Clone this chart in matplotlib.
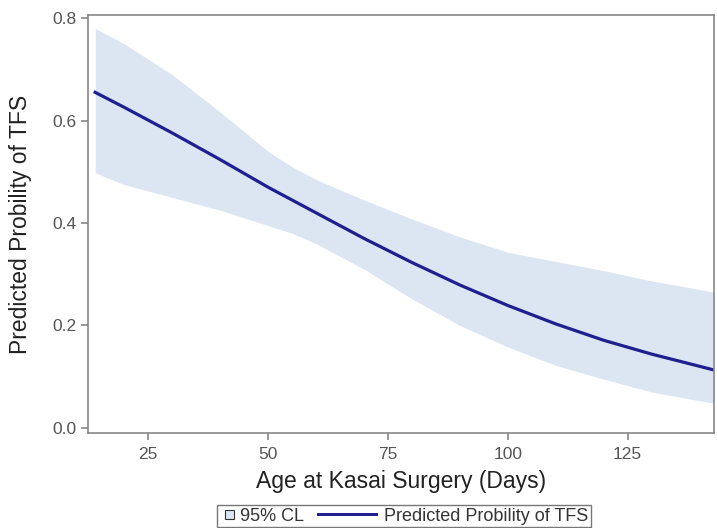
import matplotlib.pyplot as plt
from matplotlib.patches import Patch, Rectangle
from matplotlib.legend_handler import HandlerPatch

plt.rcParams['font.family'] = ['Liberation Sans', 'DejaVu Sans']

# age at Kasai surgery (days) and predicted probability with 95% CL
age = [14, 20, 30, 40, 50, 55, 60, 70, 80, 90, 100, 110, 120, 130, 143]
pred = [0.655, 0.626, 0.576, 0.524, 0.470, 0.445, 0.420, 0.370, 0.323, 0.279,
        0.239, 0.203, 0.171, 0.144, 0.113]
upper = [0.780, 0.750, 0.690, 0.617, 0.540, 0.510, 0.485, 0.445, 0.408, 0.373,
         0.343, 0.325, 0.307, 0.287, 0.265]
lower = [0.498, 0.475, 0.450, 0.425, 0.395, 0.380, 0.360, 0.310, 0.252, 0.200,
         0.158, 0.122, 0.095, 0.070, 0.048]

xticks = [25, 50, 75, 100, 125]
yticks = [0.0, 0.2, 0.4, 0.6, 0.8]

band_col = "#dce6f2"
line_col = "#1f1f8f"
grey = "#555555"


def small_box(legend, orig_handle, xdescent, ydescent, width, height, fontsize):
    s = 0.5 * fontsize
    return Rectangle((-xdescent + width - s, -ydescent + (height - s) / 2), s, s)


def long_line(legend, orig_handle, xdescent, ydescent, width, height, fontsize):
    extra = 2.6 * fontsize
    lw = 1.7
    return Rectangle((-xdescent - extra, -ydescent + height / 2 - lw / 2), width + extra, lw)


fig = plt.figure(figsize=(7.17, 5.28), dpi=100)
ax = fig.add_axes([88/717, 1-433/528, (714-88)/717, (433-15)/528])

ax.fill_between(age, lower, upper, color=band_col, linewidth=0)
ax.plot(age, pred, color=line_col, linewidth=2.3)

ax.set_xlim(12.5, 143)
ax.set_ylim(-0.01, 0.806)
ax.set_xticks(xticks)
ax.set_yticks(yticks)
ax.set_yticklabels([f"{v:.1f}" for v in yticks])

for s in ax.spines.values():
    s.set_color("#888888")
    s.set_linewidth(1.2)
ax.tick_params(colors="#888888", labelcolor=grey, labelsize=12.5, length=5, width=1.2)
ax.tick_params(axis="x", pad=5)
ax.tick_params(axis="y", pad=3)

ax.set_xlabel("Age at Kasai Surgery (Days)", fontsize=16.5, color="#222222")
ax.set_ylabel("Predicted Probility of TFS", fontsize=16.5, color="#222222")
ax.xaxis.set_label_coords(0.5, -0.088)
ax.yaxis.set_label_coords(-0.09, 0.5)

box = Patch(facecolor=band_col, edgecolor="#333333", linewidth=0.8)
line = Patch(facecolor=line_col, edgecolor="none")
fig.legend([box, line], ["95% CL", "Predicted Probility of TFS"], loc="upper center",
           bbox_to_anchor=(404/717, 1-505/528), ncol=2, frameon=True,
           fancybox=False, edgecolor="#555555", fontsize=13,
           handlelength=0.8, handleheight=0.7, columnspacing=3.3,
           handletextpad=0.35, borderpad=0.15, borderaxespad=0, labelcolor="#333333",
           handler_map={box: HandlerPatch(patch_func=small_box),
                        line: HandlerPatch(patch_func=long_line)})

fig.savefig("out.png", dpi=100)
